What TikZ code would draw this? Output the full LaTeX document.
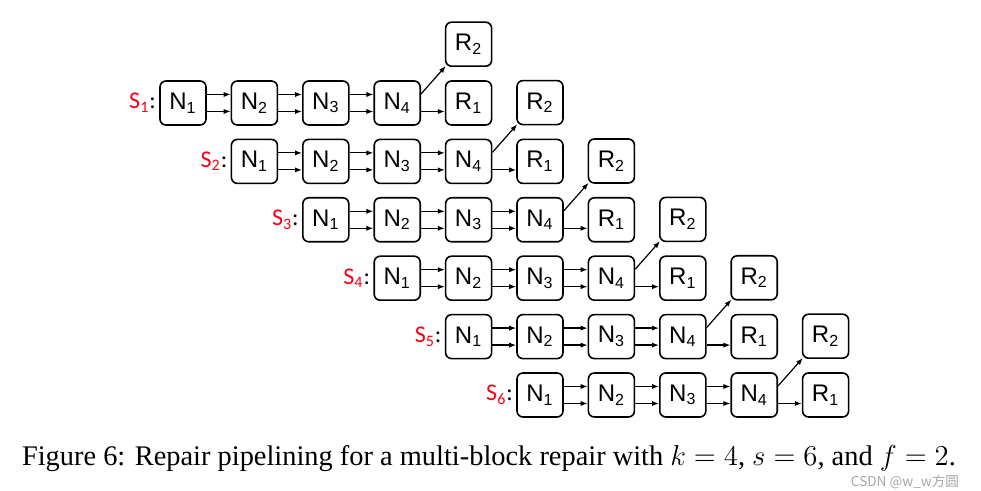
\documentclass[tikz,border=0pt]{standalone}
\usepackage{fontspec}
\setmainfont{Liberation Serif}
\newfontfamily\arialfont{Liberation Sans}
\newfontfamily\calibrifont{Carlito}
\newfontfamily\cjkfont{Noto Sans CJK SC}
\usepackage{tikz}
\usetikzlibrary{positioning,arrows.meta}
\definecolor{stripered}{RGB}{250,0,20}
\tikzset{
	repair pipeline/.style={
		x=0.5pt,y=-0.5pt, % pixel grid of the figure
		node distance=11.9pt,
		pipe/.style={
			semithick,
			-{Latex[length=3.5pt,width=2.6pt]}
		}
	},
	block/.style={
		rectangle,
		draw,
		thick,
		rounded corners=3pt,
		minimum width=23pt,
		minimum height=22pt,
		inner sep=0pt,
		font=\arialfont\fontsize{12}{14}\selectfont
	},
	stripe label/.style={
		anchor=east,
		inner sep=0pt,
		font=\calibrifont\fontsize{12}{14}\selectfont
	},
	caption/.style={
		inner sep=0pt,
		font=\fontsize{14.2}{16}\selectfont
	},
	watermark/.style={
		inner sep=0pt,
		text=gray!70,
		font=\cjkfont\fontsize{6.8}{8}\selectfont
	}
}

\begin{document}
\begin{tikzpicture}[repair pipeline]
	\useasboundingbox (0,0) rectangle (981,491);
	\foreach \r [evaluate=\r as \px using 183+71.4*(\r-1),
	             evaluate=\r as \py using 103+58.4*(\r-1)] in {1,...,6}{
		\node[block] (n\r-1) at (\px,\py) {N\textsubscript{1}};
		\node[block,right=of n\r-1] (n\r-2) {N\textsubscript{2}};
		\node[block,right=of n\r-2] (n\r-3) {N\textsubscript{3}};
		\node[block,right=of n\r-3] (n\r-4) {N\textsubscript{4}};
		\node[block,right=of n\r-4] (r\r-1) {R\textsubscript{1}};
		\node[block,above=6.6pt of r\r-1] (r\r-2) {R\textsubscript{2}};
		\node[stripe label] (s\r) at ([xshift=-1.5pt]n\r-1.west)
			{\textcolor{stripered}{S\textsubscript{\r}}:};
		% two lanes between helpers
		\foreach \a/\b in {1/2,2/3,3/4}{
			\draw[pipe] ([yshift=4.25pt]n\r-\a.east) -- ([yshift=4.25pt]n\r-\b.west);
			\draw[pipe] ([yshift=-4.25pt]n\r-\a.east) -- ([yshift=-4.25pt]n\r-\b.west);
		}
		\draw[pipe] ([yshift=-4.25pt]n\r-4.east) -- ([yshift=-4.25pt]r\r-1.west);
		\draw[pipe] ([yshift=4.5pt]n\r-4.east) -- ([xshift=0.5pt,yshift=0.5pt]r\r-2.south west);
	}
	\node[caption] (cap) at (489,459)
		{Figure 6: Repair pipelining for a multi-block repair with $k=4$, $s=6$, and $f=2$.};
	\node[watermark] (wm) at (905,482) {CSDN @w\_w方圆};
\end{tikzpicture}
\end{document}
